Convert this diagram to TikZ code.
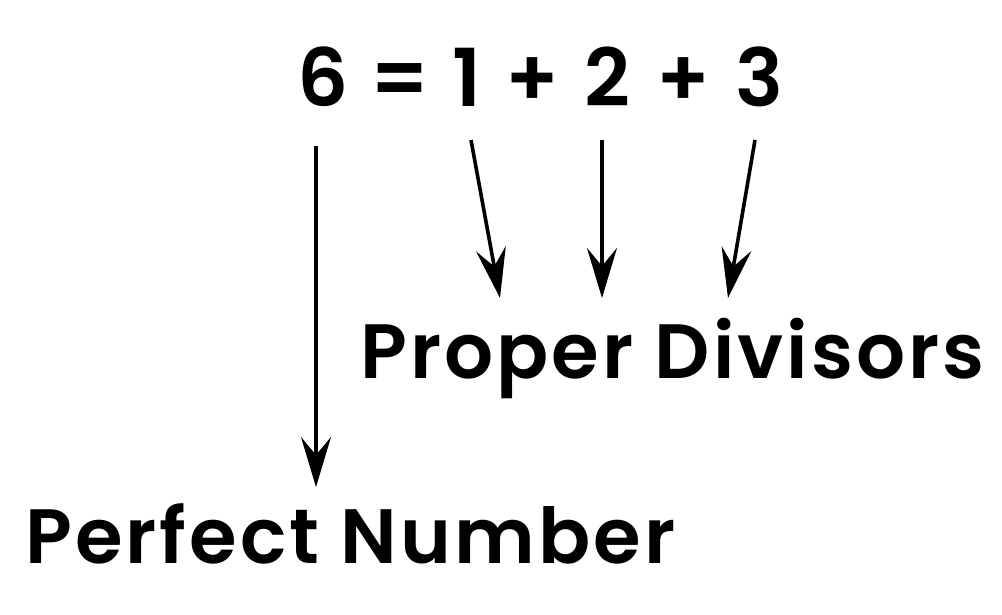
\documentclass[tikz,border=0pt]{standalone}
\usepackage{fontspec}
\newfontfamily\popm{Poppins SemiBold}[LetterSpace=4]
\newfontfamily\popeq{Poppins SemiBold}
\usetikzlibrary{arrows.meta}
\begin{document}
\begin{tikzpicture}[x=1pt,y=-1pt,
  eq/.style={inner sep=0pt,anchor=base,font=\popeq\fontsize{80}{80}\selectfont},
  lab/.style={inner sep=0pt,anchor=base west,font=\popm\fontsize{77}{80}\selectfont},
  arr/.style={line width=3.6pt,-{Stealth[length=50pt,width=30pt,inset=18pt]}}]
\useasboundingbox[fill=white] (0,0) rectangle (1002,614);
\node[eq] (d6) at (323,106) {6};
\node[eq] (eqs) at (400,106) {=};
\node[eq] (d1) at (467,106) {1};
\node[eq] (p1) at (532,106) {+};
\node[eq] (d2) at (607,106) {2};
\node[eq] (p2) at (683,106) {+};
\node[eq] (d3) at (759,106) {3};
\node[lab] (pd) at (360,378) {Proper Divisors};
\node[lab] (pn) at (25,563) {Perfect Number};
\coordinate (t6) at (316,146);
\coordinate (h6) at (316,487);
\coordinate (t1) at (471,140);
\coordinate (h1) at (500,298);
\coordinate (t2) at (602,140);
\coordinate (h2) at (602,298);
\coordinate (t3) at (755,140);
\coordinate (h3) at (728,298);
\draw[arr] (t6) -- (h6);
\draw[arr] (t1) -- (h1);
\draw[arr] (t2) -- (h2);
\draw[arr] (t3) -- (h3);
\end{tikzpicture}
\end{document}
